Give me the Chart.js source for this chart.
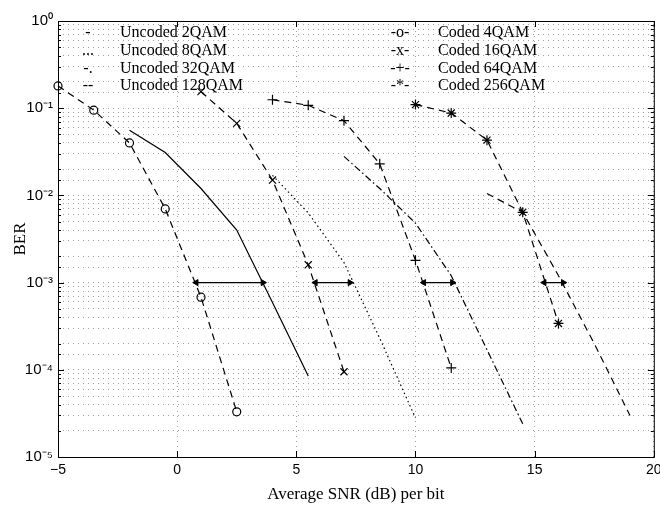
<!DOCTYPE html>
<html>
<head>
<meta charset="utf-8">
<script src="https://cdn.jsdelivr.net/npm/chart.js@4.4.1/dist/chart.umd.min.js"></script>
<style>
  html, body { margin: 0; padding: 0; background: #fff; overflow: hidden; }
  canvas { display: block; }
</style>
</head>
<body>
<canvas id="berChart" width="660" height="506"></canvas>
<script>
// values (SNR in dB, BER)
const uncoded2Snr = [-2, -0.5, 1, 2.5, 4, 5.5];
const uncoded2Ber = [0.056, 0.031, 0.012, 0.004, 0.00059, 0.000085];

const uncoded8Snr = [4, 5.5, 7, 8.5, 10];
const uncoded8Ber = [0.017, 0.0063, 0.0017, 0.00023, 0.000028];

const uncoded32Snr = [7, 8.5, 10, 11.5, 13, 14.5];
const uncoded32Ber = [0.028, 0.012, 0.0048, 0.0012, 0.00017, 0.000024];

const uncoded128Snr = [13, 14.5, 16, 17.5, 19];
const uncoded128Ber = [0.0105, 0.0064, 0.0012, 0.0002, 0.00003];

const coded4Snr = [-5, -3.5, -2, -0.5, 1, 2.5];
const coded4Ber = [0.18, 0.095, 0.04, 0.007, 0.00068, 0.000033];

const coded16Snr = [1, 2.5, 4, 5.5, 7];
const coded16Ber = [0.155, 0.067, 0.015, 0.0016, 0.000095];

const coded64Snr = [4, 5.5, 7, 8.5, 10, 11.5];
const coded64Ber = [0.125, 0.108, 0.072, 0.023, 0.0018, 0.000105];

const coded256Snr = [10, 11.5, 13, 14.5, 16];
const coded256Ber = [0.11, 0.088, 0.043, 0.0064, 0.00034];

// coding gain arrows at BER = 1e-3 (start, end in dB)
const gainBer = 0.001;
const gainStart = [0.8, 5.8, 10.35, 15.4];
const gainEnd = [3.6, 7.25, 11.55, 16.2];

const xTicks = [-5, 0, 5, 10, 15, 20];
const yDecades = [-5, -4, -3, -2, -1, 0];

const legendLeft = ["Uncoded 2QAM", "Uncoded 8QAM", "Uncoded 32QAM", "Uncoded 128QAM"];
const legendLeftMarks = ["-", "...", "-.", "--"];
const legendRight = ["Coded 4QAM", "Coded 16QAM", "Coded 64QAM", "Coded 256QAM"];
const legendRightMarks = ["-o-", "-x-", "-+-", "-*-"];

const serif = "'Liberation Serif', 'Times New Roman', serif";
const sans = "'Liberation Sans', Arial, sans-serif";

function pts(xs, ys) {
  return xs.map((x, i) => ({ x: x, y: ys[i] }));
}

const supMap = { "-": "\u207B", "0": "\u2070", "1": "\u00B9", "2": "\u00B2", "3": "\u00B3", "4": "\u2074", "5": "\u2075" };
function powLabel(e) {
  return "10" + String(e).split("").map(c => supMap[c]).join("");
}

function curve(label, xs, ys, dash, style) {
  return {
    label: label,
    data: pts(xs, ys),
    showLine: true,
    borderColor: "#000",
    borderWidth: 1.2,
    borderDash: dash,
    pointStyle: style || false,
    pointRadius: style ? (style === "circle" ? 4 : 5) : 0,
    pointBorderWidth: 1.2,
    pointBorderColor: "#000",
    pointBackgroundColor: "rgba(0,0,0,0)",
    clip: 8
  };
}

const datasets = [
  curve("Uncoded 2QAM", uncoded2Snr, uncoded2Ber, []),
  curve("Uncoded 8QAM", uncoded8Snr, uncoded8Ber, [1.5, 3]),
  curve("Uncoded 32QAM", uncoded32Snr, uncoded32Ber, [7, 3, 1.5, 3]),
  curve("Uncoded 128QAM", uncoded128Snr, uncoded128Ber, [7, 5]),
  curve("Coded 4QAM", coded4Snr, coded4Ber, [7, 5], "circle"),
  curve("Coded 16QAM", coded16Snr, coded16Ber, [7, 5], "crossRot"),
  curve("Coded 64QAM", coded64Snr, coded64Ber, [7, 5], "cross"),
  curve("Coded 256QAM", coded256Snr, coded256Ber, [7, 5], "star")
];

gainStart.forEach((s, i) => {
  datasets.push({
    label: "gain" + i,
    data: [{ x: s, y: gainBer }, { x: gainEnd[i], y: gainBer }],
    showLine: true,
    borderColor: "#000",
    borderWidth: 1.2,
    pointStyle: "triangle",
    pointRotation: [270, 90],
    pointRadius: 3.5,
    pointBorderWidth: 1,
    pointBorderColor: "#000",
    pointBackgroundColor: "#000"
  });
});

// frame, inward ticks and the in-plot legend
const framePlugin = {
  id: "frame",
  afterDraw(chart) {
    const { ctx, chartArea: a, scales } = chart;
    ctx.save();
    ctx.strokeStyle = "#000";
    ctx.lineWidth = 1;
    ctx.strokeRect(a.left + 0.5, a.top + 0.5, a.right - a.left, a.bottom - a.top);

    ctx.beginPath();
    xTicks.forEach(v => {
      const px = Math.round(scales.x.getPixelForValue(v)) + 0.5;
      ctx.moveTo(px, a.bottom); ctx.lineTo(px, a.bottom - 6);
      ctx.moveTo(px, a.top); ctx.lineTo(px, a.top + 6);
    });
    scales.y.ticks.forEach(t => {
      const lg = Math.log10(t.value);
      const len = Math.abs(lg - Math.round(lg)) < 1e-6 ? 6 : 3;
      const py = Math.round(scales.y.getPixelForValue(t.value)) + 0.5;
      ctx.moveTo(a.left, py); ctx.lineTo(a.left + len, py);
      ctx.moveTo(a.right, py); ctx.lineTo(a.right - len, py);
    });
    ctx.stroke();

    ctx.fillStyle = "#000";
    ctx.font = "16px " + serif;
    ctx.textBaseline = "middle";
    legendLeft.forEach((t, i) => {
      const y = 33 + i * 17.7;
      ctx.textAlign = "center";
      ctx.fillText(legendLeftMarks[i], 88, y);
      ctx.textAlign = "left";
      ctx.fillText(t, 120, y);
    });
    legendRight.forEach((t, i) => {
      const y = 33 + i * 17.7;
      ctx.textAlign = "center";
      ctx.fillText(legendRightMarks[i], 400, y);
      ctx.textAlign = "left";
      ctx.fillText(t, 438, y);
    });
    ctx.restore();
  }
};

new Chart(document.getElementById("berChart"), {
  type: "scatter",
  data: { datasets: datasets },
  options: {
    responsive: false,
    animation: false,
    devicePixelRatio: 1,
    layout: { padding: { left: 0, right: 5, top: 21, bottom: 0 } },
    plugins: { legend: { display: false }, tooltip: { enabled: false } },
    scales: {
      x: {
        type: "linear",
        min: -5,
        max: 20,
        afterBuildTicks(scale) {
          scale.ticks = xTicks.map(v => ({ value: v }));
        },
        afterFit(scale) {
          scale.height = 49;
          scale.paddingLeft = 0;
          scale.paddingRight = 0;
        },
        ticks: {
          color: "#000",
          padding: 5,
          font: { family: sans, size: 14 },
          maxRotation: 0,
          callback: v => (v < 0 ? "\u2212" + Math.abs(v) : String(v))
        },
        grid: { color: "#a0a0a0", lineWidth: 1, drawTicks: false },
        border: { display: false, dash: [1, 4] },
        title: {
          display: true,
          text: "Average SNR (dB) per bit",
          color: "#000",
          font: { family: serif, size: 17 },
          padding: { top: 1, bottom: 1 }
        }
      },
      y: {
        type: "logarithmic",
        min: 1e-5,
        max: 1,
        afterFit(scale) {
          scale.width = 58;
          scale.paddingTop = 0;
          scale.paddingBottom = 0;
        },
        ticks: {
          autoSkip: false,
          color: "#000",
          padding: 5,
          font: { family: sans, size: 15 },
          callback: v => {
            const lg = Math.log10(v);
            const e = Math.round(lg);
            return Math.abs(lg - e) < 1e-6 && yDecades.includes(e) ? powLabel(e) : "";
          }
        },
        grid: { color: "#a0a0a0", lineWidth: 1, drawTicks: false },
        border: { display: false, dash: [1, 4] },
        title: {
          display: true,
          text: "BER",
          color: "#000",
          font: { family: serif, size: 17 },
          padding: { top: 10, bottom: 10 }
        }
      }
    }
  },
  plugins: [framePlugin]
});
</script>
</body>
</html>
